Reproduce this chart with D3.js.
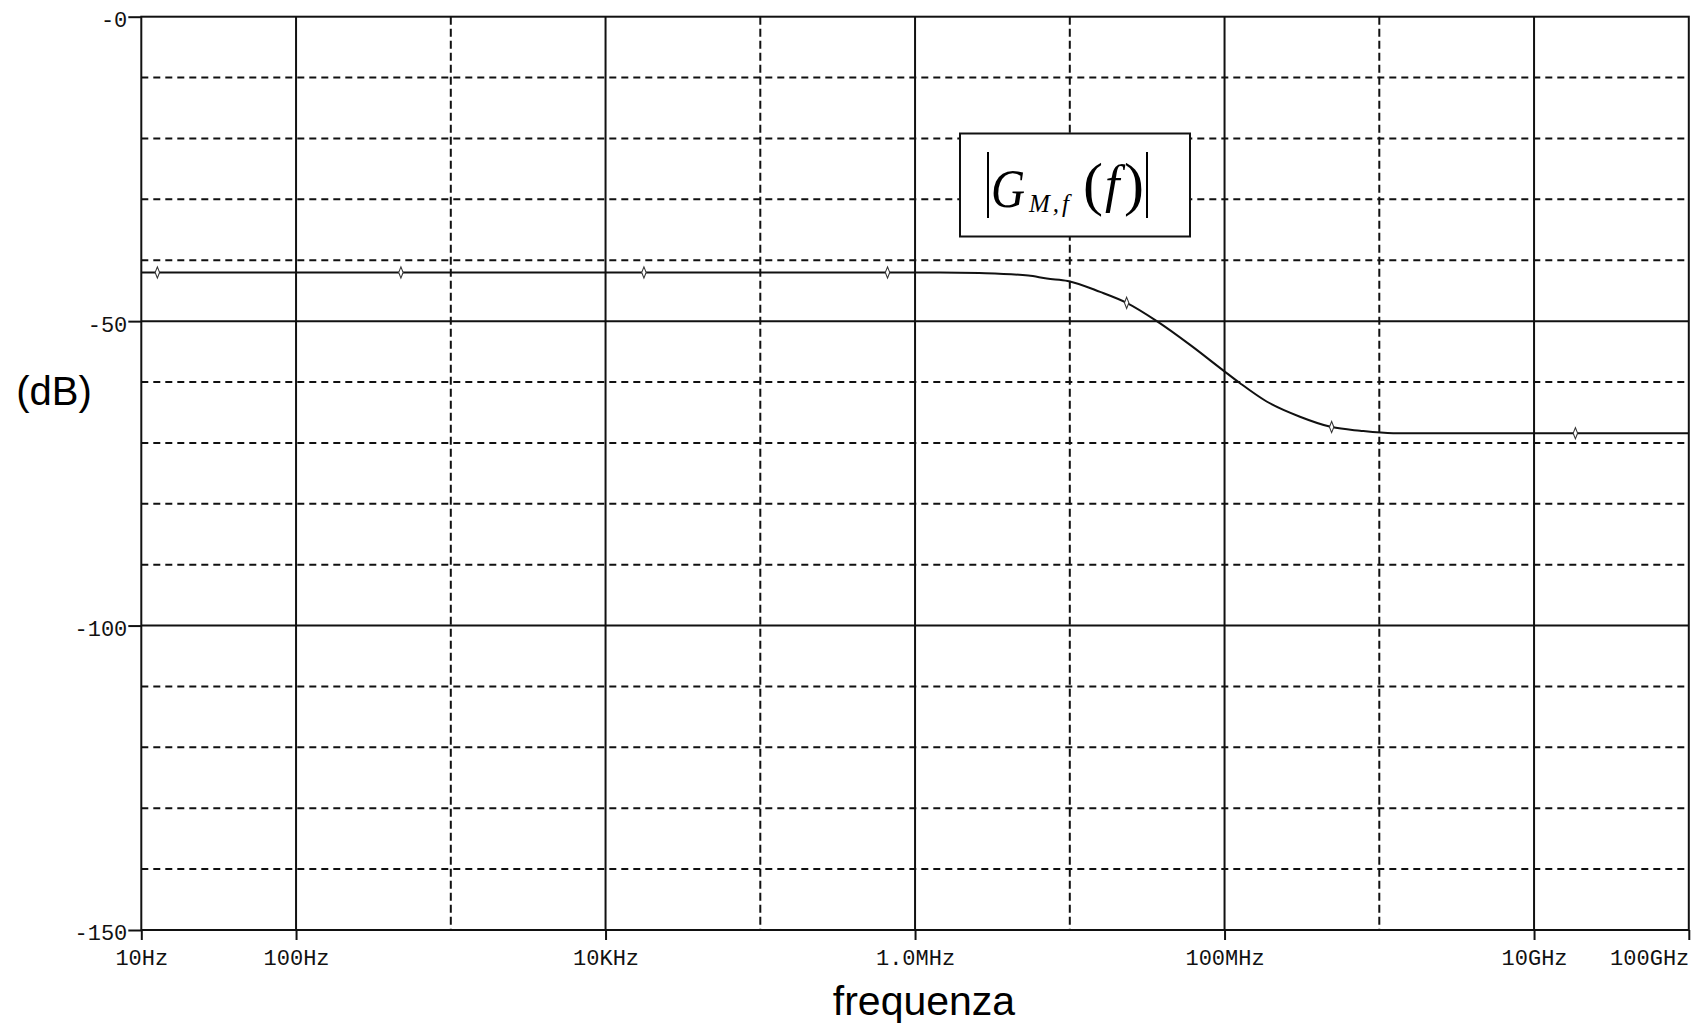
<!DOCTYPE html>
<html>
<head>
<meta charset="utf-8">
<script src="https://cdn.jsdelivr.net/npm/d3@7"></script>
<style>
  body { margin: 0; background: #fff; }
</style>
</head>
<body>
<div id="chart"></div>
<script>
// frequency response (Hz, dB)
const freqs = [10, 1e3, 1e5, 1e6, 1.45e6, 2.6e6, 5.4e6, 7.1e6, 9.7e6, 15.7e6, 23.3e6, 36.5e6,
  59.9e6, 97e6, 126e6, 187e6, 307e6, 492e6, 750e6, 1.23e9, 1e10, 1e11]
const gainDb = [-42, -42, -42, -42, -42, -42.1, -42.5, -43.0, -43.4, -45.2, -47.0, -50.0,
  -53.9, -58.0, -60.2, -63.2, -65.7, -67.4, -68.0, -68.4, -68.4, -68.4]

// marker symbols placed along the trace
const markerFreqs = [12.7, 476, 17.7e3, 664e3, 23.3e6, 492e6, 18.5e9]
const markerDb = [-42, -42, -42, -42, -47.0, -67.4, -68.4]

const xTickValues = [10, 100, 1e4, 1e6, 1e8, 1e10, 1e11]
const xTickLabels = ["10Hz", "100Hz", "10KHz", "1.0MHz", "100MHz", "10GHz", "100GHz"]
const yTickValues = [0, -50, -100, -150]
const yTickLabels = ["-0", "-50", "-100", "-150"]

const lineColor = "#111"

const dimensions = {
  width: 1691,
  height: 1027,
  margin: { top: 16.7, right: 2.2, bottom: 97, left: 141.3 },
}
dimensions.boundedWidth = dimensions.width - dimensions.margin.left - dimensions.margin.right
dimensions.boundedHeight = dimensions.height - dimensions.margin.top - dimensions.margin.bottom

const svg = d3.select("#chart")
  .append("svg")
    .attr("width", dimensions.width)
    .attr("height", dimensions.height)

const bounds = svg.append("g")
  .attr("transform", `translate(${dimensions.margin.left},${dimensions.margin.top})`)

const xScale = d3.scaleLog()
  .domain([10, 1e11])
  .range([0, dimensions.boundedWidth])

const yScale = d3.scaleLinear()
  .domain([-150, 0])
  .range([dimensions.boundedHeight, 0])

// grid
const hGrid = d3.range(-10, -150, -10)
bounds.append("g")
  .selectAll("line")
  .data(hGrid)
  .join("line")
    .attr("x1", 0)
    .attr("x2", dimensions.boundedWidth)
    .attr("y1", d => yScale(d))
    .attr("y2", d => yScale(d))
    .attr("stroke", lineColor)
    .attr("stroke-width", 2)
    .attr("stroke-dasharray", d => d % 50 === 0 ? null : "7,5")

const vGrid = d3.range(2, 11).map(e => Math.pow(10, e))
bounds.append("g")
  .selectAll("line")
  .data(vGrid)
  .join("line")
    .attr("x1", d => xScale(d))
    .attr("x2", d => xScale(d))
    .attr("y1", 0)
    .attr("y2", dimensions.boundedHeight)
    .attr("stroke", lineColor)
    .attr("stroke-width", 2)
    .attr("stroke-dasharray", (d, i) => i % 2 === 0 ? null : "8,4")

// frame
bounds.append("rect")
  .attr("width", dimensions.boundedWidth)
  .attr("height", dimensions.boundedHeight)
  .attr("fill", "none")
  .attr("stroke", lineColor)
  .attr("stroke-width", 2)

// axes
const monoFont = "'Liberation Mono', 'Courier New', monospace"

const yAxis = bounds.append("g")
  .call(d3.axisLeft(yScale)
    .tickValues(yTickValues)
    .tickFormat((d, i) => yTickLabels[i])
    .tickSize(13)
    .tickPadding(1))
yAxis.select(".domain").remove()
yAxis.selectAll("line").attr("stroke", lineColor).attr("stroke-width", 2)
yAxis.selectAll("text")
  .attr("font-family", monoFont)
  .attr("font-size", 22)
  .attr("fill", "#111")
  .attr("dy", "0.45em")

const xAxis = bounds.append("g")
  .attr("transform", `translate(0,${dimensions.boundedHeight})`)
  .call(d3.axisBottom(xScale)
    .tickValues(xTickValues)
    .tickFormat((d, i) => xTickLabels[i])
    .tickSize(10)
    .tickPadding(9))
xAxis.select(".domain").remove()
xAxis.selectAll("line").attr("stroke", lineColor).attr("stroke-width", 2)
xAxis.selectAll("text")
  .attr("font-family", monoFont)
  .attr("font-size", 22)
  .attr("fill", "#111")
  .attr("text-anchor", (d, i) => i === xTickValues.length - 1 ? "end" : "middle")

// trace
const points = freqs.map((f, i) => ({ f, db: gainDb[i] }))
const lineGenerator = d3.line()
  .x(d => xScale(d.f))
  .y(d => yScale(d.db))
  .curve(d3.curveMonotoneX)

bounds.append("path")
  .attr("d", lineGenerator(points))
  .attr("fill", "none")
  .attr("stroke", lineColor)
  .attr("stroke-width", 2)

const markers = markerFreqs.map((f, i) => ({ f, db: markerDb[i] }))
bounds.append("g")
  .selectAll("path")
  .data(markers)
  .join("path")
    .attr("transform", d => `translate(${xScale(d.f)},${yScale(d.db)}) scale(0.75,1.1)`)
    .attr("d", d3.symbol(d3.symbolDiamond, 30))
    .attr("fill", "#fff")
    .attr("stroke", "#333")
    .attr("stroke-width", 1.3)

// annotation box  |G_{M,f}(f)|
const note = svg.append("g")
note.append("rect")
  .attr("x", 960)
  .attr("y", 133.5)
  .attr("width", 230)
  .attr("height", 103)
  .attr("fill", "#fff")
  .attr("stroke", lineColor)
  .attr("stroke-width", 2)
note.selectAll("line.bar")
  .data([988, 1147])
  .join("line")
    .attr("x1", d => d)
    .attr("x2", d => d)
    .attr("y1", 152)
    .attr("y2", 218)
    .attr("stroke", "#000")
    .attr("stroke-width", 2)
const serif = "'Liberation Serif', 'Times New Roman', serif"
note.append("text")
  .attr("x", 991)
  .attr("y", 207)
  .attr("font-family", serif)
  .attr("font-style", "italic")
  .attr("font-size", 54)
  .attr("textLength", 34)
  .attr("lengthAdjust", "spacingAndGlyphs")
  .text("G")
note.append("text")
  .attr("x", 1029)
  .attr("y", 212)
  .attr("font-family", serif)
  .attr("font-style", "italic")
  .attr("font-size", 25)
  .attr("textLength", 40)
  .attr("lengthAdjust", "spacing")
  .text("M,f")
note.append("text")
  .attr("x", 1083)
  .attr("y", 204)
  .attr("font-family", serif)
  .attr("font-size", 60)
  .text("(")
note.append("text")
  .attr("x", 1105)
  .attr("y", 202)
  .attr("font-family", serif)
  .attr("font-style", "italic")
  .attr("font-size", 52)
  .text("f")
note.append("text")
  .attr("x", 1124)
  .attr("y", 204)
  .attr("font-family", serif)
  .attr("font-size", 60)
  .text(")")

// axis titles
const sans = "'Liberation Sans', Arial, sans-serif"
svg.append("text")
  .attr("x", 54)
  .attr("y", 405)
  .attr("text-anchor", "middle")
  .attr("font-family", sans)
  .attr("font-size", 40)
  .text("(dB)")
svg.append("text")
  .attr("x", 924)
  .attr("y", 1015)
  .attr("text-anchor", "middle")
  .attr("font-family", sans)
  .attr("font-size", 41)
  .text("frequenza")
</script>
</body>
</html>
